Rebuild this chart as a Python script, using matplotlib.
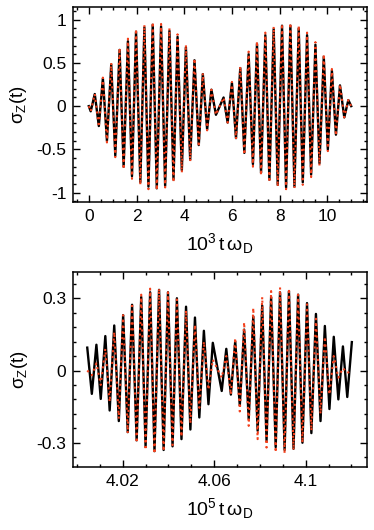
import numpy as np
import matplotlib
matplotlib.use("Agg")
import matplotlib.pyplot as plt
from matplotlib.ticker import MultipleLocator, FixedLocator, FormatStrFormatter

plt.rcParams["font.family"] = ["Liberation Sans", "DejaVu Sans"]
plt.rcParams["mathtext.fontset"] = "custom"
plt.rcParams["mathtext.rm"] = "Liberation Sans"
plt.rcParams["mathtext.it"] = "Liberation Sans"
plt.rcParams["mathtext.bf"] = "Liberation Sans:bold"
plt.rcParams["axes.unicode_minus"] = False

# top panel: extrema (t in units of 10^3/omega_D)
t_top = [0.0, 0.08, 0.25, 0.42, 0.59, 0.76, 0.94, 1.11, 1.29, 1.46, 1.64, 1.81,
         1.98, 2.16, 2.33, 2.50, 2.68, 2.85, 3.03, 3.20, 3.38, 3.55, 3.72, 3.90,
         4.07, 4.25, 4.43, 4.61, 4.78, 4.96, 5.14, 5.33, 5.65, 5.82, 6.00, 6.17,
         6.35, 6.52, 6.70, 6.88, 7.05, 7.22, 7.40, 7.57, 7.75, 7.92, 8.10, 8.27,
         8.45, 8.62, 8.80, 8.97, 9.15, 9.32, 9.50, 9.67, 9.85, 10.02, 10.19,
         10.36, 10.53, 10.71, 10.88, 11.0]
black_top = [0.0, -0.06, 0.14, -0.23, 0.32, -0.40, 0.48, -0.57, 0.65, -0.70, 0.75, -0.81,
             0.86, -0.88, 0.91, -0.93, 0.94, -0.95, 0.92, -0.92, 0.87, -0.85, 0.80, -0.74,
             0.68, -0.62, 0.53, -0.45, 0.37, -0.27, 0.19, -0.10, 0.10, -0.19, 0.27, -0.37,
             0.44, -0.54, 0.60, -0.67, 0.72, -0.77, 0.82, -0.85, 0.89, -0.91, 0.93, -0.94,
             0.93, -0.93, 0.90, -0.88, 0.82, -0.79, 0.71, -0.66, 0.57, -0.50, 0.41,
             -0.33, 0.24, -0.13, 0.07, 0.0]
red_top = [0.0, -0.06, 0.14, -0.24, 0.33, -0.42, 0.50, -0.59, 0.67, -0.73, 0.78, -0.84,
           0.89, -0.91, 0.94, -0.96, 0.97, -0.97, 0.95, -0.94, 0.90, -0.88, 0.83, -0.77,
           0.71, -0.64, 0.55, -0.47, 0.38, -0.28, 0.19, -0.10, 0.10, -0.19, 0.28, -0.38,
           0.46, -0.56, 0.63, -0.70, 0.75, -0.80, 0.85, -0.88, 0.92, -0.93, 0.95, -0.96,
           0.96, -0.95, 0.93, -0.91, 0.85, -0.82, 0.74, -0.69, 0.60, -0.52, 0.43,
           -0.34, 0.25, -0.13, 0.07, 0.0]

# bottom panel: extrema (t in units of 10^5/omega_D)
t_bot = [4.0045, 4.0065, 4.0085, 4.0104, 4.0124, 4.0143, 4.0163, 4.0183, 4.0202, 4.0222,
         4.0241, 4.0261, 4.0281, 4.0300, 4.0320, 4.0339, 4.0359, 4.0379, 4.0398, 4.0418,
         4.0437, 4.0457, 4.0477, 4.0496, 4.0516, 4.0535, 4.0555, 4.0575, 4.0594,
         4.0633, 4.0653, 4.0673, 4.0692, 4.0712, 4.0731, 4.0751, 4.0771, 4.0790, 4.0810,
         4.0829, 4.0849, 4.0869, 4.0888, 4.0908, 4.0927, 4.0947, 4.0967, 4.0986, 4.1006,
         4.1025, 4.1045, 4.1065, 4.1084, 4.1104, 4.1123, 4.1143, 4.1163, 4.1182, 4.1202]
black_bot = [0.095, -0.097, 0.107, -0.118, 0.143, -0.166, 0.187, -0.21, 0.23, -0.256,
             0.273, -0.29, 0.305, -0.315, 0.325, -0.335, 0.335, -0.33, 0.325, -0.315,
             0.30, -0.285, 0.265, -0.245, 0.22, -0.195, 0.165, -0.14, 0.115,
             -0.085, 0.09, -0.10, 0.12, -0.145, 0.17, -0.20, 0.225, -0.25, 0.27,
             -0.29, 0.305, -0.318, 0.325, -0.33, 0.33, -0.325, 0.315, -0.30, 0.28,
             -0.26, 0.235, -0.21, 0.185, -0.16, 0.14, -0.12, 0.10, -0.11, 0.118]
red_bot = [0.0, -0.02, 0.03, -0.06, 0.09, -0.13, 0.16, -0.20, 0.23, -0.26,
           0.28, -0.30, 0.315, -0.33, 0.34, -0.345, 0.34, -0.335, 0.325, -0.31,
           0.295, -0.275, 0.25, -0.22, 0.19, -0.155, 0.12, -0.08, 0.045,
           -0.03, 0.06, -0.10, 0.135, -0.17, 0.20, -0.23, 0.26, -0.285, 0.305,
           -0.32, 0.33, -0.34, 0.345, -0.345, 0.34, -0.33, 0.315, -0.30, 0.275,
           -0.25, 0.215, -0.18, 0.14, -0.10, 0.06, -0.03, 0.01, -0.01, 0.0]

x_ticks_bot = [4.02, 4.06, 4.1]
red = "#f2401c"

fig = plt.figure(figsize=(3.74, 5.30), dpi=100)
ax1 = fig.add_axes([0.196, 0.619, 0.7845, 0.368])
ax2 = fig.add_axes([0.196, 0.1183, 0.7845, 0.368])


def style(ax):
    for s in ax.spines.values():
        s.set_linewidth(1.1)
    ax.tick_params(which="both", direction="in", top=True, right=True, labelsize=12.5, width=1.0, pad=5)
    ax.tick_params(which="major", length=5)
    ax.tick_params(which="minor", length=2.5)
    ax.set_ylabel(r"$\sigma_Z(t)$", fontsize=13.5, labelpad=5)


ax1.plot(t_top, black_top, color="black", lw=1.7)
ax1.plot(t_top, red_top, color=red, lw=1.5, linestyle=(0, (1, 1.8)))
ax1.set_xlim(-0.65, 11.65)
ax1.set_ylim(-1.107, 1.147)
ax1.xaxis.set_major_locator(MultipleLocator(2))
ax1.xaxis.set_minor_locator(MultipleLocator(0.5))
ax1.yaxis.set_major_locator(MultipleLocator(0.5))
ax1.yaxis.set_minor_locator(MultipleLocator(0.1))
ax1.xaxis.set_major_formatter(FormatStrFormatter("%g"))
ax1.yaxis.set_major_formatter(FormatStrFormatter("%g"))
style(ax1)
ax1.set_xlabel(r"$10^3\,t\,\omega_D$", fontsize=14, labelpad=5)

ax2.plot(t_bot, black_bot, color="black", lw=1.7)
ax2.plot(t_bot, red_bot, color=red, lw=1.5, linestyle=(0, (1, 1.8)))
ax2.set_xlim(3.9984, 4.1267)
ax2.set_ylim(-0.402, 0.408)
ax2.xaxis.set_major_locator(FixedLocator(x_ticks_bot))
ax2.xaxis.set_minor_locator(MultipleLocator(0.01))
ax2.yaxis.set_major_locator(MultipleLocator(0.3))
ax2.yaxis.set_minor_locator(MultipleLocator(0.06))
ax2.xaxis.set_major_formatter(FormatStrFormatter("%g"))
ax2.yaxis.set_major_formatter(FormatStrFormatter("%g"))
style(ax2)
ax2.set_xlabel(r"$10^5\,t\,\omega_D$", fontsize=14, labelpad=5)

fig.savefig("out.png", dpi=100)
